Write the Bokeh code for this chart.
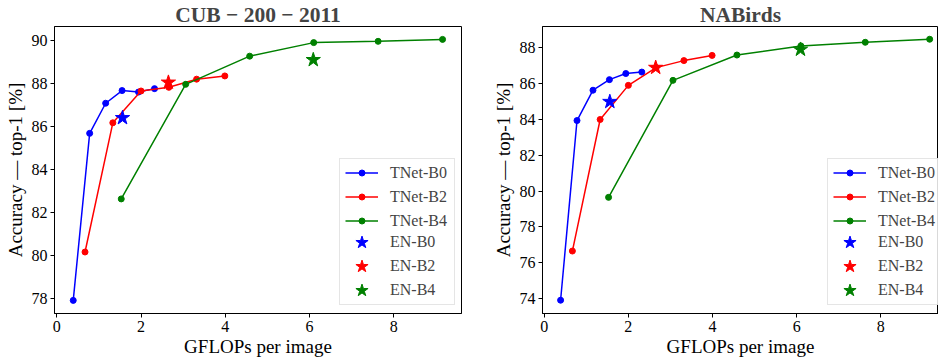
from bokeh.plotting import figure
from bokeh.layouts import row
from bokeh.models import Range1d, FixedTicker, Legend, LegendItem
from bokeh.embed import file_html
from bokeh.resources import INLINE

# GFLOPs per image
b0_x = [0.39, 0.78, 1.16, 1.55, 1.94, 2.32]
b2_x = [0.67, 1.33, 2.00, 2.66, 3.32, 3.99]
b4_x = [1.53, 3.06, 4.58, 6.10, 7.63, 9.16]
en_x = [1.56, 2.65, 6.09]

# CUB-200-2011 accuracy
cub_b0 = [77.89, 85.66, 87.06, 87.65, 87.58, 87.74]
cub_b2 = [80.14, 86.15, 87.63, 87.80, 88.18, 88.33]
cub_b4 = [82.61, 87.94, 89.25, 89.88, 89.94, 90.03]
cub_en = [86.38, 88.03, 89.08]

# NABirds accuracy
nab_b0 = [73.92, 83.93, 85.62, 86.21, 86.55, 86.63]
nab_b2 = [76.66, 83.99, 85.89, 86.88, 87.27, 87.56]
nab_b4 = [79.65, 86.17, 87.58, 88.09, 88.29, 88.46]
nab_en = [84.98, 86.88, 87.89]

x_ticks = [0, 2, 4, 6, 8]
cub_y_ticks = [78, 80, 82, 84, 86, 88, 90]
nab_y_ticks = [74, 76, 78, 80, 82, 84, 86, 88]

colors = ["#0000ff", "#ff0000", "#008000"]
tnet_names = ["TNet-B0", "TNet-B2", "TNet-B4"]
en_names = ["EN-B0", "EN-B2", "EN-B4"]

FONT = "Liberation Serif"


def make_plot(title, b_ys, en_y, xr, yr, yticks, width, mbl, mbr):
    p = figure(width=width, height=362, output_backend="svg", toolbar_location=None,
               x_range=Range1d(*xr), y_range=Range1d(*yr),
               min_border_left=mbl, min_border_right=mbr, min_border_top=22,
               min_border_bottom=49, title=title)
    p.title.text_font = FONT
    p.title.text_font_size = "21.5px"
    p.title.text_font_style = "bold"
    p.title.align = "center"
    p.title.standoff = 0
    p.grid.visible = False
    p.outline_line_color = "black"
    p.outline_line_width = 1
    p.outline_line_alpha = 1

    for axes in (p.xaxis, p.yaxis):
        axes.major_label_text_font = FONT
        axes.major_label_text_font_size = "16px"
        axes.axis_label_text_font = FONT
        axes.axis_label_text_font_size = "19px"
        axes.axis_label_text_font_style = "normal"
        axes.minor_tick_line_color = None
        axes.major_tick_in = 0
        axes.major_tick_out = 4
        axes.major_label_standoff = 3
        axes.axis_line_color = "black"
        axes.major_tick_line_color = "black"
        axes.major_label_text_color = "black"
        axes.axis_label_text_color = "black"
    p.xaxis.ticker = FixedTicker(ticks=x_ticks)
    p.yaxis.ticker = FixedTicker(ticks=yticks)
    p.xaxis.axis_label = "GFLOPs per image"
    p.yaxis.axis_label = "Accuracy — top-1 [%]"
    p.xaxis.axis_label_standoff = 1
    p.yaxis.axis_label_standoff = 3

    # legend frame (empty rows, drawn first)
    dummy = p.scatter([], [], size=0, fill_alpha=0, line_alpha=0)
    box = Legend(items=[LegendItem(label=" ", renderers=[dummy]) for _ in range(6)],
                 location=(285, 8), margin=0, padding=2,
                 glyph_width=20, glyph_height=21, label_height=21, spacing=3,
                 label_standoff=0, label_width=90,
                 label_text_font=FONT, label_text_font_size="16px",
                 border_line_color="#cccccc", border_line_width=1,
                 background_fill_color="white", background_fill_alpha=0.85)
    p.add_layout(box, "center")

    tnet_items = []
    for xs, ys, c, name in zip([b0_x, b2_x, b4_x], b_ys, colors, tnet_names):
        l = p.line(xs, ys, color=c, line_width=1.5)
        s = p.scatter(xs, ys, color=c, size=6)
        tnet_items.append(LegendItem(label=name, renderers=[l, s]))
    lg_tn = Legend(items=tnet_items, location=(291, 82), margin=0, padding=0,
                   glyph_width=33, glyph_height=15, label_height=21, spacing=3,
                   label_standoff=12, label_text_font=FONT, label_text_font_size="16px",
                   border_line_color=None, background_fill_alpha=0)
    p.add_layout(lg_tn, "center")

    for i in range(3):
        st = p.scatter([en_x[i]], [en_y[i]], marker="star", color=colors[i], size=15)
        lg = Legend(items=[LegendItem(label=en_names[i], renderers=[st])],
                    location=(285, 7 + 24 * (2 - i)), margin=0, padding=0,
                    glyph_width=45, glyph_height=32, label_height=21,
                    label_standoff=6, label_text_font=FONT, label_text_font_size="16px",
                    border_line_color=None, background_fill_alpha=0)
        p.add_layout(lg, "center")
    return p


p1 = make_plot("CUB − 200 − 2011", [cub_b0, cub_b2, cub_b4], cub_en,
               (-0.055, 9.61), (77.28, 90.63), cub_y_ticks, 470, 54, 9)
p2 = make_plot("NABirds", [nab_b0, nab_b2, nab_b4], nab_en,
               (-0.04, 9.37), (73.18, 89.17), nab_y_ticks, 468, 72, 0)

layout = row(p1, p2)
open("out.html", "w").write(file_html(layout, INLINE))
